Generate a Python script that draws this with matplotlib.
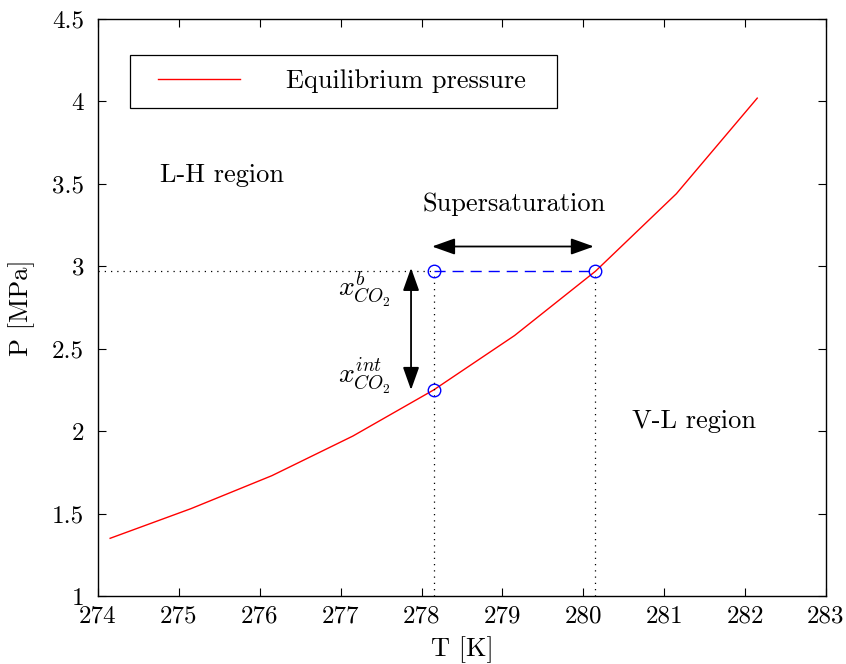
import numpy as np
import matplotlib
matplotlib.use('Agg')
import matplotlib.pyplot as plt
from matplotlib.patches import Rectangle

plt.rcParams['font.family'] = 'serif'
plt.rcParams['font.serif'] = ['cmr10']
plt.rcParams['mathtext.fontset'] = 'cm'
plt.rcParams['axes.formatter.use_mathtext'] = True

# equilibrium curve
temps = [274.15, 275.15, 276.15, 277.15, 278.15, 279.15, 280.15, 281.15, 282.15]
pressures = [1.35, 1.53, 1.73, 1.97, 2.25, 2.58, 2.97, 3.44, 4.02]

# operating points
t_bulk = 278.15
t_eq = 280.15
p_bulk = 2.97
p_int = 2.25

xticks = list(range(274, 284))
yticks = [1, 1.5, 2, 2.5, 3, 3.5, 4, 4.5]
ytick_labels = ['1', '1.5', '2', '2.5', '3', '3.5', '4', '4.5']

fig = plt.figure(figsize=(8.46, 6.64), dpi=100)
ax = fig.add_axes([98 / 846, 68 / 664, 728 / 846, 577 / 664])

ax.plot(temps, pressures, color='red', lw=1.0, label='Equilibrium pressure')

# guide lines
ax.plot([274, t_bulk], [p_bulk, p_bulk], color='black', ls=(0, (1, 4)), lw=0.9)
ax.plot([t_bulk, t_bulk], [1, p_bulk], color='black', ls=(0, (1, 4)), lw=0.9)
ax.plot([t_eq, t_eq], [1, p_bulk], color='black', ls=(0, (1, 4)), lw=0.9)
ax.plot([t_bulk, t_eq], [p_bulk, p_bulk], color='blue', ls=(0, (8, 5)), lw=1.0)
ax.plot([t_bulk, t_eq, t_bulk], [p_bulk, p_bulk, p_int], 'o', mfc='none',
        mec='blue', ms=9, mew=1.0)

# arrows
arr = dict(arrowstyle='<|-|>,head_length=1.4,head_width=0.5', color='black',
           lw=1.3, shrinkA=0, shrinkB=0)
ax.annotate('', xy=(t_bulk - 0.02, 3.12), xytext=(t_eq - 0.02, 3.12), arrowprops=arr)
ax.annotate('', xy=(277.87, 2.99), xytext=(277.87, 2.25), arrowprops=arr)

ax.text(279.15, 3.38, 'Supersaturation', ha='center', va='center', fontsize=19)
ax.text(274.77, 3.55, 'L-H region', ha='left', va='center', fontsize=19)
ax.text(280.6, 2.06, 'V-L region', ha='left', va='center', fontsize=19)
ax.text(277.62, 2.86, r'$x^{b}_{CO_2}$', ha='right', va='center', fontsize=20)
ax.text(277.62, 2.33, r'$x^{int}_{CO_2}$', ha='right', va='center', fontsize=20)

ax.set_xlim(274, 283)
ax.set_ylim(1, 4.5)
ax.set_xticks(xticks)
ax.set_xticklabels([str(t) for t in xticks])
ax.set_yticks(yticks)
ax.set_yticklabels(ytick_labels)
ax.tick_params(direction='in', top=True, right=True, labelsize=18, length=6, width=0.8)
ax.tick_params(axis='x', pad=7)
ax.tick_params(axis='y', pad=10)
for s in ax.spines.values():
    s.set_linewidth(1.0)

ax.set_xlabel('T [K]', fontsize=19, labelpad=6)
ax.set_ylabel('P [MPa]', fontsize=19, labelpad=12)

# legend box drawn by hand to get MATLAB-like padding
ax.add_patch(Rectangle((32 / 728, 488 / 577), 427 / 728, 53 / 577,
                       transform=ax.transAxes, fill=True, facecolor='white',
                       edgecolor='black', lw=0.9, zorder=4))
leg = ax.legend(loc='center left', bbox_to_anchor=(60 / 728, 514.5 / 577),
                fontsize=19, handlelength=3.1, handletextpad=1.75,
                borderpad=0, borderaxespad=0, frameon=False)
leg.set_zorder(5)

fig.savefig('out.png', dpi=100)
